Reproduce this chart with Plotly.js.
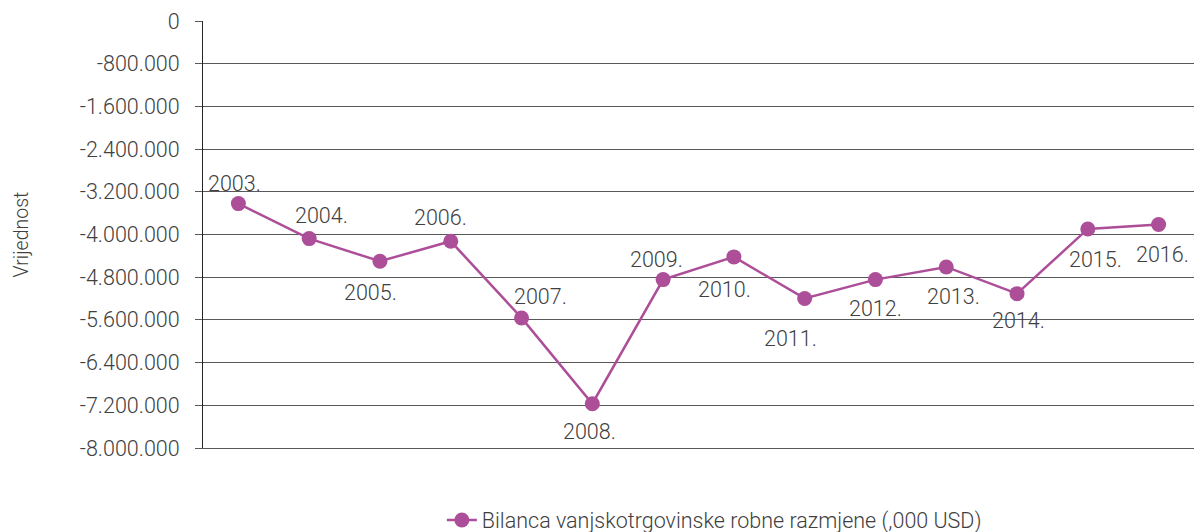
<!DOCTYPE html>
<html>
<head>
<meta charset="utf-8">
<script src="https://cdn.plot.ly/plotly-3.0.1.min.js"></script>
<style>
  html, body { margin: 0; padding: 0; background: #ffffff; }
  #chart { width: 1194px; height: 532px; }
</style>
</head>
<body>
<div id="chart"></div>
<script>
// ---- data ----
const years = ["2003.", "2004.", "2005.", "2006.", "2007.", "2008.", "2009.",
               "2010.", "2011.", "2012.", "2013.", "2014.", "2015.", "2016."];
const balance = [-3421000, -4077000, -4502000, -4127000, -5563000, -7170000, -4845000,
                 -4420000, -5198000, -4845000, -4608000, -5108000, -3896000, -3814000];
const tickValues = [0, -800000, -1600000, -2400000, -3200000, -4000000, -4800000,
                    -5600000, -6400000, -7200000, -8000000];
const tickLabels = ["0", "-800.000", "-1.600.000", "-2.400.000", "-3.200.000", "-4.000.000",
                    "-4.800.000", "-5.600.000", "-6.400.000", "-7.200.000", "-8.000.000"];
const seriesName = "Bilanca vanjskotrgovinske robne razmjene (,000 USD)";
const yTitle = "Vrijednost";

// label offsets (pixels, style only)
const labelShiftX = [-4, 12, -9, -10, 19, -3, -7, -9, -14, 0, 7, 1, 8, 4];
const labelShiftY = [20, 23, -31, 24, 21, -28, 20, -33, -40, -29, -30, -27, -31, -30];

const lineColor = "#AD4E98";
const textColor = "#404040";
const gridColor = "#595959";
const fontFamily = "Roboto, 'Open Sans', sans-serif";
const fs = 21.5;

const trace = {
  type: "scatter",
  mode: "lines+markers",
  x: years,
  y: balance,
  name: seriesName,
  line: { color: lineColor, width: 2.5 },
  marker: { color: lineColor, size: 15 },
  hoverinfo: "x+y"
};

const annotations = years.map((yr, i) => ({
  x: i,
  y: balance[i],
  xref: "x",
  yref: "y",
  text: yr,
  showarrow: false,
  xanchor: "center",
  yanchor: "middle",
  xshift: labelShiftX[i],
  yshift: labelShiftY[i],
  font: { family: fontFamily, size: fs, color: textColor, weight: 300 }
}));

annotations.push({
  xref: "paper", yref: "paper",
  x: -0.1836, y: 0.5,
  xanchor: "center", yanchor: "middle",
  text: yTitle,
  textangle: -90,
  showarrow: false,
  font: { family: fontFamily, size: 19.5, color: textColor, weight: 300 }
});

const layout = {
  width: 1194,
  height: 532,
  margin: { l: 203, r: 0, t: 21, b: 84, pad: 0 },
  paper_bgcolor: "#ffffff",
  plot_bgcolor: "#ffffff",
  font: { family: fontFamily, size: fs, color: textColor, weight: 300 },
  showlegend: true,
  legend: {
    orientation: "h",
    xref: "paper", yref: "container",
    x: 0.516, xanchor: "center",
    y: 0.0226, yanchor: "middle",
    font: { family: fontFamily, size: fs, color: textColor, weight: 300 }
  },
  xaxis: {
    type: "category",
    range: [-0.5, 13.5],
    showticklabels: false,
    showgrid: false,
    zeroline: false,
    showline: true,
    linecolor: gridColor,
    linewidth: 1,
    ticks: "",
    fixedrange: true
  },
  yaxis: {
    range: [-8000000, 0],
    tickmode: "array",
    tickvals: tickValues,
    ticktext: tickLabels,
    showgrid: true,
    gridcolor: gridColor,
    gridwidth: 1,
    zeroline: false,
    showline: true,
    linecolor: "#262626",
    linewidth: 1,
    ticks: "outside",
    ticklen: 7,
    tickcolor: gridColor,
    ticklabelstandoff: 11,
    tickfont: { family: fontFamily, size: fs, color: textColor, weight: 300 },
    automargin: false,
    fixedrange: true
  },
  annotations: annotations
};

Plotly.newPlot("chart", [trace], layout, { displayModeBar: false, staticPlot: true });
</script>
</body>
</html>
